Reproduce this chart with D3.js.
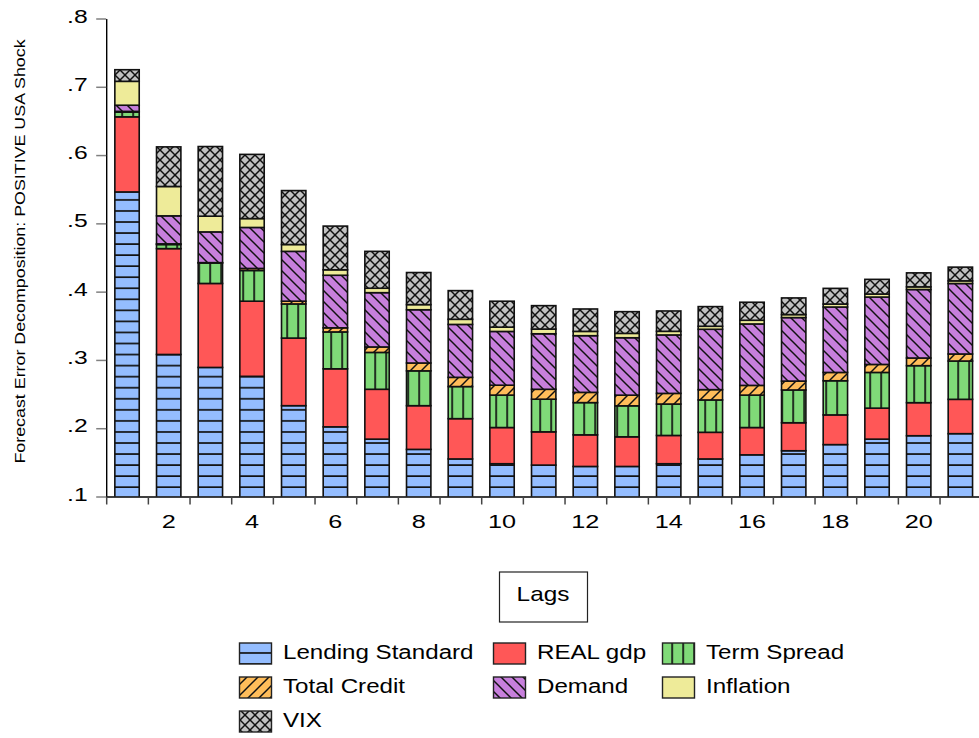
<!DOCTYPE html>
<html>
<head>
<meta charset="utf-8">
<script src="https://cdn.jsdelivr.net/npm/d3@7"></script>
<style>
  html, body { margin: 0; padding: 0; background: #fff; }
  svg text { font-family: "Liberation Sans", Arial, Helvetica, sans-serif; fill: #000; }
</style>
</head>
<body>
<svg id="chart" width="979" height="738"></svg>
<script>
// Forecast error decomposition by lag (share of variance explained by each shock)
const lags = d3.range(1, 22);
const lendingStandard = [0.546, 0.308, 0.289, 0.276, 0.233, 0.202, 0.184, 0.169, 0.155, 0.148, 0.146, 0.144, 0.144, 0.148, 0.155, 0.161, 0.167, 0.176, 0.184, 0.189, 0.192];
const realGdp         = [0.110, 0.155, 0.123, 0.110, 0.099, 0.085, 0.073, 0.064, 0.059, 0.053, 0.0487, 0.0463, 0.0434, 0.0414, 0.039, 0.040, 0.041, 0.0435, 0.0454, 0.0484, 0.0503];
const termSpread      = [0.007, 0.006, 0.030, 0.045, 0.050, 0.054, 0.054, 0.051, 0.047, 0.0475, 0.0478, 0.0472, 0.0454, 0.046, 0.0474, 0.0475, 0.048, 0.050, 0.0523, 0.0542, 0.0561];
const totalCredit     = [0.001, 0.001, 0.0005, 0.003, 0.004, 0.006, 0.008, 0.0115, 0.0135, 0.0145, 0.0145, 0.015, 0.0156, 0.0156, 0.0151, 0.0142, 0.013, 0.0122, 0.0117, 0.0112, 0.0103];
const demand          = [0.009, 0.041, 0.045, 0.060, 0.073, 0.077, 0.0795, 0.078, 0.0775, 0.0787, 0.0813, 0.083, 0.0841, 0.0856, 0.0884, 0.090, 0.093, 0.0958, 0.0987, 0.1003, 0.1032];
const inflation       = [0.035, 0.043, 0.023, 0.013, 0.010, 0.008, 0.0065, 0.0075, 0.0075, 0.0063, 0.0069, 0.0063, 0.0064, 0.0053, 0.0044, 0.0054, 0.0044, 0.0043, 0.0044, 0.0039, 0.0039];
const vix             = [0.017, 0.058, 0.102, 0.094, 0.079, 0.064, 0.054, 0.047, 0.042, 0.038, 0.0343, 0.0328, 0.0318, 0.0298, 0.0288, 0.0264, 0.0244, 0.023, 0.0215, 0.0205, 0.0201];

const seriesNames = ["Lending Standard", "REAL gdp", "Term Spread", "Total Credit", "Demand", "Inflation", "VIX"];
const seriesValues = [lendingStandard, realGdp, termSpread, totalCredit, demand, inflation, vix];
const yTickValues = [0.1, 0.2, 0.3, 0.4, 0.5, 0.6, 0.7, 0.8];
const xLabelLags = [2, 4, 6, 8, 10, 12, 14, 16, 18, 20];
const yTitle = "Forecast Error Decomposition: POSITIVE USA Shock";
const xTitle = "Lags";

// fill + hatch style per series
const styles = [
  { id: "p0", fill: "#94bdff", hatch: "h" },
  { id: "p1", fill: "#ff5757", hatch: "none" },
  { id: "p2", fill: "#80da78", hatch: "v" },
  { id: "p3", fill: "#ffbd5a", hatch: "fwd" },
  { id: "p4", fill: "#c77fdc", hatch: "back" },
  { id: "p5", fill: "#eeeb99", hatch: "none" },
  { id: "p6", fill: "#c2c2c2", hatch: "cross" }
];

const svg = d3.select("#chart");
const plotLeft = 106.2, plotRight = 981.2, plotTop = 18.5, plotBottom = 496.5;

// hatch patterns in page space so they line up across bars
const defs = svg.append("defs");
styles.forEach(s => {
  const size = s.hatch === "h" ? 11.05 : (s.hatch === "cross" ? 10 : 11);
  const p = defs.append("pattern").attr("id", s.id)
    .attr("patternUnits", "userSpaceOnUse")
    .attr("width", size).attr("height", size)
    .attr("x", s.hatch === "v" ? 0.2 : 0).attr("y", 0);
  p.append("rect").attr("width", size).attr("height", size).attr("fill", s.fill);
  const ln = (x1, y1, x2, y2, w) => p.append("line")
    .attr("x1", x1).attr("y1", y1).attr("x2", x2).attr("y2", y2)
    .attr("stroke", "#111").attr("stroke-width", w);
  if (s.hatch === "h") ln(0, 1, size, 1, 1.7);
  if (s.hatch === "v") ln(1, 0, 1, size, 1.7);
  if (s.hatch === "fwd") { ln(-1, size + 1, size + 1, -1, 1.5); ln(-1, 1, 1, -1, 1.5); ln(size - 1, size + 1, size + 1, size - 1, 1.5); }
  if (s.hatch === "back") { ln(-1, -1, size + 1, size + 1, 1.5); ln(size - 1, -1, size + 1, 1, 1.5); ln(-1, size - 1, 1, size + 1, 1.5); }
  if (s.hatch === "cross") {
    ln(-1, -1, size + 1, size + 1, 1.5); ln(-1, size + 1, size + 1, -1, 1.5);
  }
});
defs.append("clipPath").attr("id", "plotClip")
  .append("rect").attr("x", 0).attr("y", 0).attr("width", 979).attr("height", plotBottom);

// scales
const x = d3.scaleBand().domain(lags).range([plotLeft, plotRight]).paddingInner(0.415).paddingOuter(0.2075);
const xEdge = d3.scaleLinear().domain([0.5, 21.5]).range([plotLeft, plotRight]);
const y = d3.scaleLinear().domain([0.1, 0.8]).range([plotBottom, plotTop]);

// stacked data
const rows = lags.map((lag, i) => {
  const r = { lag };
  seriesNames.forEach((n, k) => { r[n] = seriesValues[k][i]; });
  return r;
});
const stacked = d3.stack().keys(seriesNames)(rows);

// helper: text with horizontal stretch
function sText(parent, tx, ty, str, size, sx, anchor, rot) {
  return parent.append("text")
    .attr("transform", `translate(${tx},${ty})` + (rot ? ` rotate(${rot})` : "") + ` scale(${sx},1)`)
    .attr("text-anchor", anchor)
    .style("font-size", size + "px")
    .text(str);
}

// bars
const plot = svg.append("g").attr("clip-path", "url(#plotClip)");
stacked.forEach((layer, k) => {
  plot.append("g").selectAll("rect").data(layer).join("rect")
    .attr("x", d => x(d.data.lag))
    .attr("width", x.bandwidth())
    .attr("y", d => y(d[1]))
    .attr("height", d => Math.max(0, y(d[0]) - y(d[1])))
    .attr("fill", `url(#${styles[k].id})`)
    .attr("stroke", "#111")
    .attr("stroke-width", 1.6);
});

// y axis
const yAxis = svg.append("g").attr("transform", `translate(${plotLeft},0)`)
  .call(d3.axisLeft(y).tickValues(yTickValues).tickSize(10).tickSizeOuter(0)
    .tickFormat(d => d3.format(".1f")(d).replace(/^0/, "")));
yAxis.select(".domain").attr("stroke", "#000").attr("stroke-width", 1.4);
yAxis.selectAll(".tick line").attr("stroke", "#808080").attr("stroke-width", 1.5);
yAxis.selectAll(".tick text")
  .attr("x", 0).attr("dy", null)
  .attr("transform", "translate(-18.5,3.5) scale(1.3,1)")
  .attr("text-anchor", "end")
  .style("font-size", "19px");

// x axis: boundary ticks
const xAxis = svg.append("g").attr("transform", `translate(0,${plotBottom})`)
  .call(d3.axisBottom(xEdge).tickValues(d3.range(0.5, 22, 1)).tickSize(8).tickSizeOuter(0).tickFormat(""));
xAxis.select(".domain").attr("stroke", "#000").attr("stroke-width", 1.4);
xAxis.selectAll(".tick line").attr("stroke", "#444").attr("stroke-width", 1.5);

// x axis: lag labels at band centres
const xLab = svg.append("g").attr("transform", `translate(0,${plotBottom})`)
  .call(d3.axisBottom(x).tickValues(xLabelLags).tickSize(0));
xLab.select(".domain").remove();
xLab.selectAll(".tick text")
  .attr("y", 0).attr("dy", null)
  .attr("transform", "translate(0,31) scale(1.33,1)")
  .style("font-size", "19px");
svg.selectAll("g[font-family]").attr("font-family", null).attr("font-size", null);
svg.selectAll(".tick text").attr("fill", "#000");

// y title
sText(svg, 25, 251.5, yTitle, 14.5, 1.23, "middle", -90);

// x title in a box
svg.append("rect").attr("x", 499.5).attr("y", 572).attr("width", 88).attr("height", 50)
  .attr("fill", "#fff").attr("stroke", "#222").attr("stroke-width", 1.2);
sText(svg, 543, 600.5, xTitle, 21, 1.16, "middle");

// legend
const legCols = [239.5, 493.5, 662.5];
const legRows = [643, 677, 711];
seriesNames.forEach((n, k) => {
  const cx = legCols[k % 3], cy = legRows[Math.floor(k / 3)];
  svg.append("rect").attr("x", cx).attr("y", cy).attr("width", 32).attr("height", 21)
    .attr("fill", `url(#${styles[k].id})`).attr("stroke", "#222").attr("stroke-width", 1.4);
  sText(svg, cx + 43.5, cy + 15.5, n, 21, 1.15, "start");
});
</script>
</body>
</html>
